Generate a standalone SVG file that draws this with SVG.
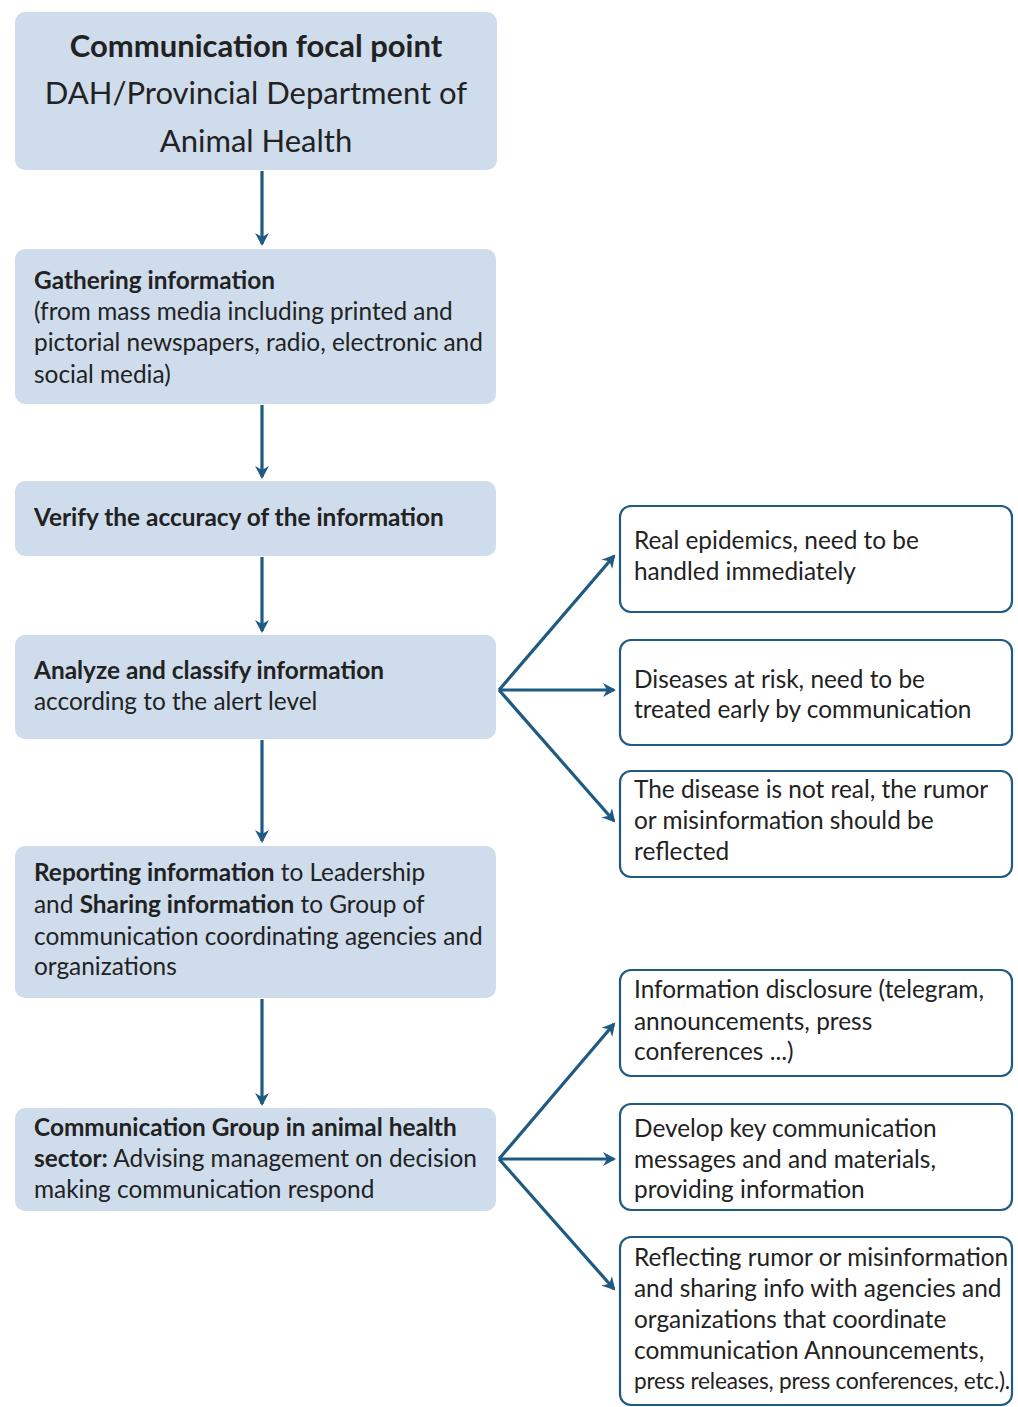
<svg xmlns="http://www.w3.org/2000/svg" width="1018" height="1407" viewBox="0 0 1018 1407">
<style>
.bx{fill:#cfdcec;}
.rb{fill:#ffffff;stroke:#1f5a82;stroke-width:2.2;}
text{font-family:Lato,"Open Sans","Liberation Sans",sans-serif;fill:#222222;font-size:24.4px;}
.b{font-weight:bold;}
.t{font-size:31px;}
.s{font-size:22.6px;letter-spacing:-0.2px;}
.ln{stroke:#1f5a82;stroke-width:3.2;fill:none;marker-end:url(#ah);}
</style>
<defs>
<marker id="ah" markerWidth="16" markerHeight="16" refX="11" refY="8" orient="auto" markerUnits="userSpaceOnUse" viewBox="0 0 16 16">
<path d="M0,1 L13,8 L0,15 L4,8 Z" fill="#1f5a82"/>
</marker>
</defs>
<rect width="1018" height="1407" fill="#ffffff"/>
<g id="connectors">
<line class="ln" x1="262" y1="171" x2="262" y2="244"/>
<line class="ln" x1="262" y1="405" x2="262" y2="477"/>
<line class="ln" x1="262" y1="557" x2="262" y2="631"/>
<line class="ln" x1="262" y1="740" x2="262" y2="841"/>
<line class="ln" x1="262" y1="999" x2="262" y2="1104"/>
<line class="ln" x1="499" y1="690" x2="614" y2="556"/>
<line class="ln" x1="499" y1="690" x2="614" y2="690"/>
<line class="ln" x1="499" y1="690" x2="614" y2="821"/>
<line class="ln" x1="499" y1="1159" x2="614" y2="1024"/>
<line class="ln" x1="499" y1="1159" x2="614" y2="1159"/>
<line class="ln" x1="499" y1="1159" x2="614" y2="1289"/>
</g>
<g id="n1">
<rect class="bx" x="15" y="12" width="482" height="158" rx="10"/>
<text class="t b" x="256" y="57" text-anchor="middle">Communication focal point</text>
<text class="t" x="256" y="104" text-anchor="middle">DAH/Provincial Department of</text>
<text class="t" x="256" y="152" text-anchor="middle">Animal Health</text>
</g>
<g id="n2">
<rect class="bx" x="15" y="249" width="481" height="155" rx="10"/>
<text class="b" x="34" y="289">Gathering information</text>
<text x="34" y="320">(from mass media including printed and</text>
<text x="34" y="351">pictorial newspapers, radio, electronic and</text>
<text x="34" y="383">social media)</text>
</g>
<g id="n3">
<rect class="bx" x="15" y="481" width="481" height="75" rx="10"/>
<text class="b" x="34" y="526">Verify the accuracy of the information</text>
</g>
<g id="n4">
<rect class="bx" x="15" y="635" width="481" height="104" rx="10"/>
<text class="b" x="34" y="679">Analyze and classify information</text>
<text x="34" y="710">according to the alert level</text>
</g>
<g id="n5">
<rect class="bx" x="15" y="846" width="481" height="152" rx="10"/>
<text x="34" y="881"><tspan class="b">Reporting information</tspan> to Leadership</text>
<text x="34" y="913">and <tspan class="b">Sharing information</tspan> to Group of</text>
<text x="34" y="945">communication coordinating agencies and</text>
<text x="34" y="975">organizations</text>
</g>
<g id="n6">
<rect class="bx" x="15" y="1108" width="481" height="103" rx="10"/>
<text class="b" x="34" y="1136">Communication Group in animal health</text>
<text x="34" y="1167"><tspan class="b">sector:</tspan> Advising management on decision</text>
<text x="34" y="1198">making communication respond</text>
</g>
<g id="r1">
<rect class="rb" x="620" y="506" width="392" height="106" rx="11"/>
<text x="634" y="549">Real epidemics, need to be</text>
<text x="634" y="580">handled immediately</text>
</g>
<g id="r2">
<rect class="rb" x="620" y="640" width="392" height="105" rx="11"/>
<text x="634" y="688">Diseases at risk, need to be</text>
<text x="634" y="718">treated early by communication</text>
</g>
<g id="r3">
<rect class="rb" x="620" y="771" width="392" height="106" rx="11"/>
<text x="634" y="798">The disease is not real, the rumor</text>
<text x="634" y="829">or misinformation should be</text>
<text x="634" y="860">reflected</text>
</g>
<g id="r4">
<rect class="rb" x="620" y="970" width="392" height="106" rx="11"/>
<text x="634" y="998">Information disclosure (telegram,</text>
<text x="634" y="1030">announcements, press</text>
<text x="634" y="1060">conferences ...)</text>
</g>
<g id="r5">
<rect class="rb" x="620" y="1104" width="392" height="106" rx="11"/>
<text x="634" y="1137">Develop key communication</text>
<text x="634" y="1168">messages and and materials,</text>
<text x="634" y="1198">providing information</text>
</g>
<g id="r6">
<rect class="rb" x="620" y="1237" width="392" height="168" rx="11"/>
<text x="634" y="1266">Reflecting rumor or misinformation</text>
<text x="634" y="1297">and sharing info with agencies and</text>
<text x="634" y="1328">organizations that coordinate</text>
<text x="634" y="1359">communication Announcements,</text>
<text class="s" x="634" y="1389">press releases, press conferences, etc.).</text>
</g>
</svg>
